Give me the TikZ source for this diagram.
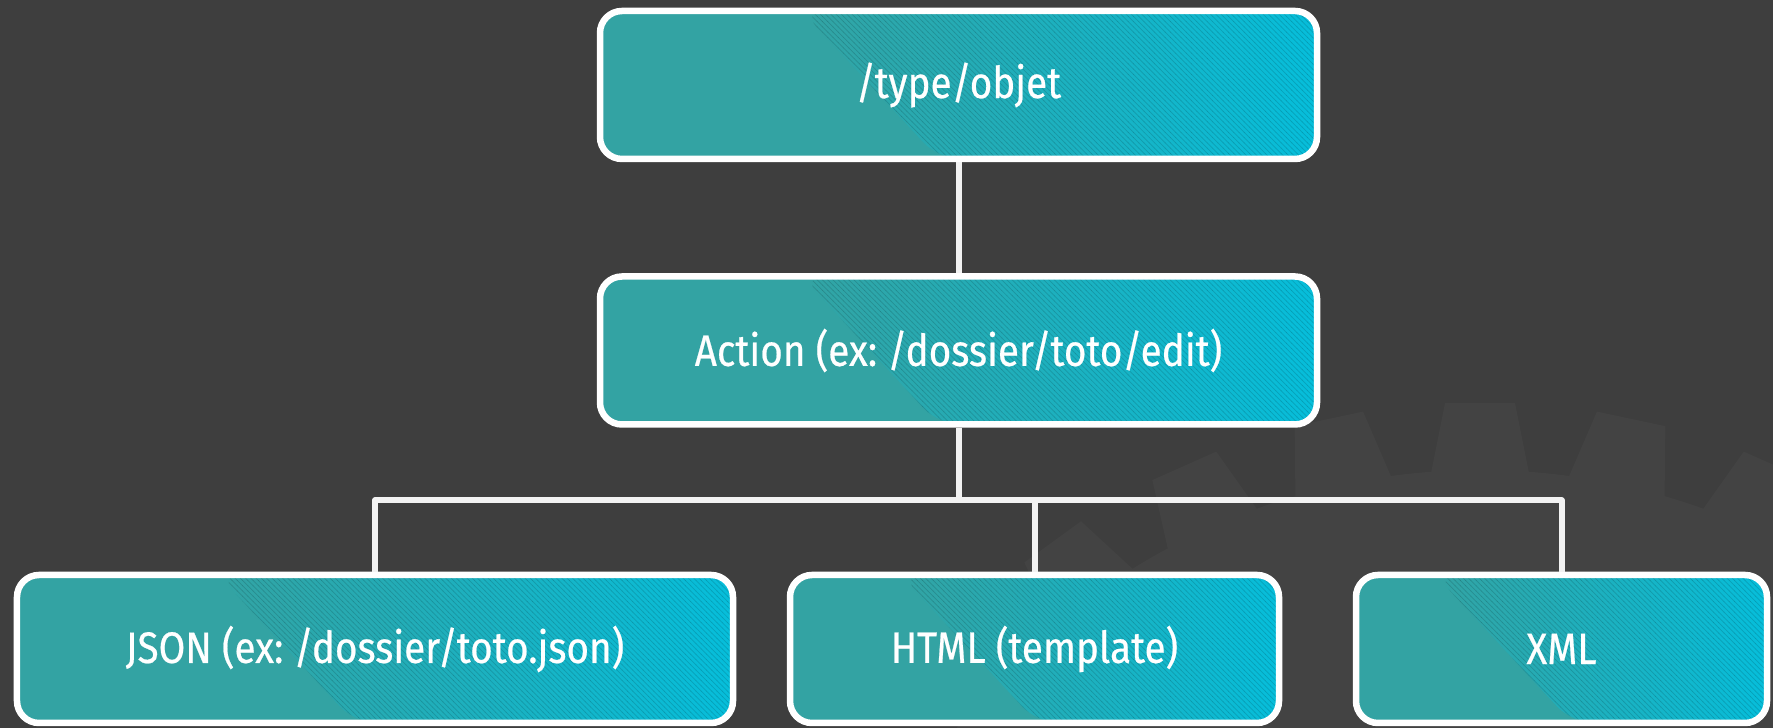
\documentclass[tikz,border=0pt]{standalone}
\usepackage{fontspec}
\setmainfont{Fira Sans}[FakeStretch=0.88,FakeBold=0.5]
\usepackage{tikz}
\usetikzlibrary{calc,patterns}
\frenchspacing

\definecolor{bgcol}{HTML}{3E3E3E}
\definecolor{gearcol}{HTML}{434343}
\definecolor{tealA}{HTML}{33A3A3}
\definecolor{cyanA}{HTML}{06BEDB}
\definecolor{wirecol}{HTML}{F2F2F2}

\begin{document}
\begin{tikzpicture}[node distance=5.31cm,
    wire/.style={draw=wirecol, line width=0.12cm, line join=round},
    main box/.style={rectangle, rounded corners=0.44cm, draw=white,
      line width=0.13cm, text=white, minimum height=2.96cm,
      font=\fontsize{25}{30}\selectfont,
      path picture={
        \coordinate (sw) at (path picture bounding box.south west);
        \coordinate (ne) at (path picture bounding box.north east);
        \coordinate (nw) at (path picture bounding box.north west);
        \coordinate (se) at (path picture bounding box.south east);
        \fill[tealA] (sw) rectangle (ne);
        \shade[left color=tealA, right color=cyanA]
          ($(nw)!0.4!(ne)+(-1.7,0)$) -- (ne) -- (se) -- ($(sw)!0.4!(se)+(1.04,0)$) -- cycle;
        \fill[pattern=north west lines, pattern color=black, opacity=0.14]
          ($(nw)!0.4!(ne)+(-1.7,0)$) -- (ne) -- (se) -- ($(sw)!0.4!(se)+(1.04,0)$) -- cycle;
      }}]

    % background and gear
    \fill[bgcol] (0,0) rectangle (35.46,14.56);
    \useasboundingbox (0,0) rectangle (35.46,14.56);
    \begin{scope}
      \clip (0,0) rectangle (35.46,14.56);
      \fill[gearcol] (29.6,-8.04) circle (13.2cm);
      \foreach \a in {0,12,...,348}
        \fill[gearcol, rotate around={\a:(29.6,-8.04)}]
          (28.6,5.0) -- (28.9,6.5) -- (30.3,6.5) -- (30.6,5.0) -- cycle;
    \end{scope}

    % boxes
    \node[main box, minimum width=14.34cm] (type) at (19.17,12.86) {/type/objet};
    \node[main box, minimum width=14.34cm] (action) [below of=type] {Action (ex: /dossier/toto/edit)};
    \node[main box, minimum width=14.32cm] (json) at (7.5,1.58) {JSON (ex: /dossier/toto.json)};
    \node[main box, minimum width=9.78cm] (html) at (20.69,1.58) {HTML (template)};
    \node[main box, minimum width=8.22cm] (xml) at (31.23,1.58) {XML};

    \coordinate (hub) at ([yshift=-1.45cm]action.south);

    % connectors
    \path[wire]
    (type) -- (action)
    (action) -- (hub)
    (hub) -| (json)
    (hub) -| (html)
    (hub) -| (xml);
\end{tikzpicture}
\end{document}
